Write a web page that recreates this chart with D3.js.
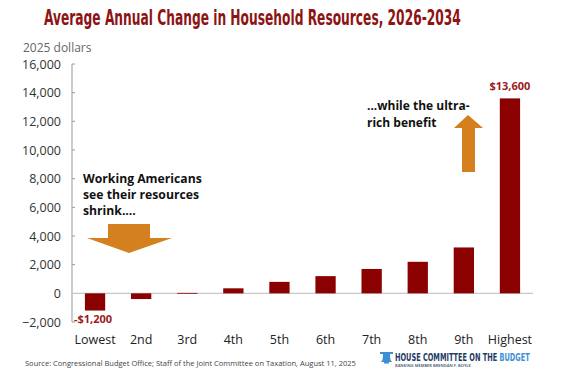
<!DOCTYPE html>
<html>
<head>
<meta charset="utf-8">
<script src="https://cdn.jsdelivr.net/npm/d3@7"></script>
<style>
html,body{margin:0;padding:0;background:#fff;}
svg{display:block;}
text{font-family:"Open Sans",sans-serif;}
</style>
</head>
<body>
<svg id="chart" width="576" height="386"></svg>
<script>
const categories = ["Lowest","2nd","3rd","4th","5th","6th","7th","8th","9th","Highest"];
const values = [-1200,-400,30,350,800,1200,1700,2200,3200,13600];
const yTicks = [-2000,0,2000,4000,6000,8000,10000,12000,14000,16000];
const valueLabels = [{i:0,text:"-$1,200"},{i:9,text:"$13,600"}];
const titleText = "Average Annual Change in Household Resources, 2026-2034";
const unitText = "2025 dollars";
const leftNote = ["Working Americans","see their resources","shrink...."];
const rightNote = ["...while the ultra-","rich benefit"];
const sourceText = "Source: Congressional Budget Office; Staff of the Joint Committee on Taxation, August 11, 2025";

const svg = d3.select("#chart");
const barColor = "#8b0000";
const arrowColor = "#d4801f";
const condensed = "'Liberation Sans Narrow','DejaVu Sans Condensed',sans-serif";

const x = d3.scaleBand().domain(categories).range([72,533]).paddingInner(0.56).paddingOuter(0.28);
const y = d3.scaleLinear().domain([-2000,16000]).range([322,64]);

// fit a text to a given width by horizontal scaling
function fitText(g, tx, ty, width){
  const w = g.node().getBBox().width;
  g.attr("transform",`translate(${tx},${ty}) scale(${width/w},1)`);
}

// title
const tg = svg.append("g");
tg.append("text").attr("x",0).attr("y",0)
  .style("font-family",condensed).style("font-weight","bold").style("font-size","21px").attr("fill","#8c1414")
  .text(titleText);
fitText(tg,44,25,417);

svg.append("text").attr("x",23).attr("y",52).attr("fill","#666").style("font-size","12px").text(unitText);

// axis
const axis = d3.axisLeft(y).tickValues(yTicks).tickFormat(d3.format(",")).tickSize(0).tickPadding(11);
const gA = svg.append("g").attr("transform","translate(72,0)").call(axis);
gA.select(".domain").remove();
gA.selectAll("text").attr("fill","#333").style("font-size","12.5px").style("font-family","'Open Sans',sans-serif");
gA.append("line").attr("x1",0).attr("x2",0).attr("y1",y(16000)).attr("y2",y(-2000)).attr("stroke","#9a9a9a").attr("stroke-width",1);
gA.selectAll(".tk").data(yTicks.filter(d=>d!==0)).enter().append("line")
  .attr("x1",0).attr("x2",3).attr("y1",d=>y(d)).attr("y2",d=>y(d)).attr("stroke","#9a9a9a");

// baseline
svg.append("line").attr("x1",72).attr("x2",533).attr("y1",y(0)).attr("y2",y(0)).attr("stroke","#c8c8c8").attr("stroke-width",1.2);

// bars
svg.selectAll(".bar").data(values).enter().append("rect")
  .attr("x",(d,i)=>x(categories[i])).attr("width",x.bandwidth())
  .attr("y",d=>y(Math.max(0,d))).attr("height",d=>Math.max(0.8,Math.abs(y(d)-y(0))))
  .attr("fill",barColor);

// category labels
svg.selectAll(".cat").data(categories).enter().append("text")
  .attr("x",d=>x(d)+x.bandwidth()/2).attr("y",344).attr("text-anchor","middle")
  .attr("fill","#222").style("font-size","12.5px").text(d=>d);

// value labels
valueLabels.forEach(v=>{
  const val = values[v.i];
  const cx = x(categories[v.i])+x.bandwidth()/2;
  const yy = val<0 ? y(val)+12 : y(val)-8;
  svg.append("text").attr("x",cx-(val<0?2:0)).attr("y",yy).attr("text-anchor","middle")
    .attr("fill","#9b1c1c").style("font-weight","bold").style("font-size","11px").text(v.text);
});

// notes
leftNote.forEach((t,i)=>svg.append("text").attr("x",83).attr("y",183+i*15.8)
  .attr("fill","#111").style("font-weight","bold").style("font-size","12.2px").text(t));
rightNote.forEach((t,i)=>svg.append("text").attr("x",367).attr("y",110+i*16.5)
  .attr("fill","#111").style("font-weight","bold").style("font-size","12px").text(t));

// down arrow
svg.append("path").attr("fill",arrowColor)
  .attr("d","M108,224 L150,224 L150,238 L172,238 L129,253 L87,238 L108,238 Z");
// up arrow
svg.append("path").attr("fill",arrowColor)
  .attr("d","M462,172 L475,172 L475,128 L483,128 L468,115 L454,128 L462,128 Z");

// source
const sg = svg.append("g");
sg.append("text").attr("fill","#444").style("font-size","8px").text(sourceText);
fitText(sg,25,366,332);

// logo
const lg = svg.append("g");
lg.append("path").attr("fill","#3b8fd4")
  .attr("d","M380,352 L393,352 L393,354 L390,354 L390,356 Q390,360 392,362 L381,362 Q383,360 383,356 L383,354 L380,354 Z");
lg.append("rect").attr("x",384).attr("y",362).attr("width",5).attr("height",1.5).attr("fill","#3b8fd4");
const ltg = svg.append("g");
const lt = ltg.append("text").style("font-family",condensed).style("font-weight","bold").style("font-size","11px");
lt.append("tspan").attr("fill","#1f3b63").text("HOUSE COMMITTEE ON THE ");
lt.append("tspan").attr("fill","#3b8fd4").text("BUDGET");
fitText(ltg,395,360.5,135);
const stg = svg.append("g");
stg.append("text").attr("fill","#5a6b80").style("font-size","4px").style("font-weight","bold").text("RANKING MEMBER BRENDAN F. BOYLE");
fitText(stg,395,366.8,76);
</script>
</body>
</html>
